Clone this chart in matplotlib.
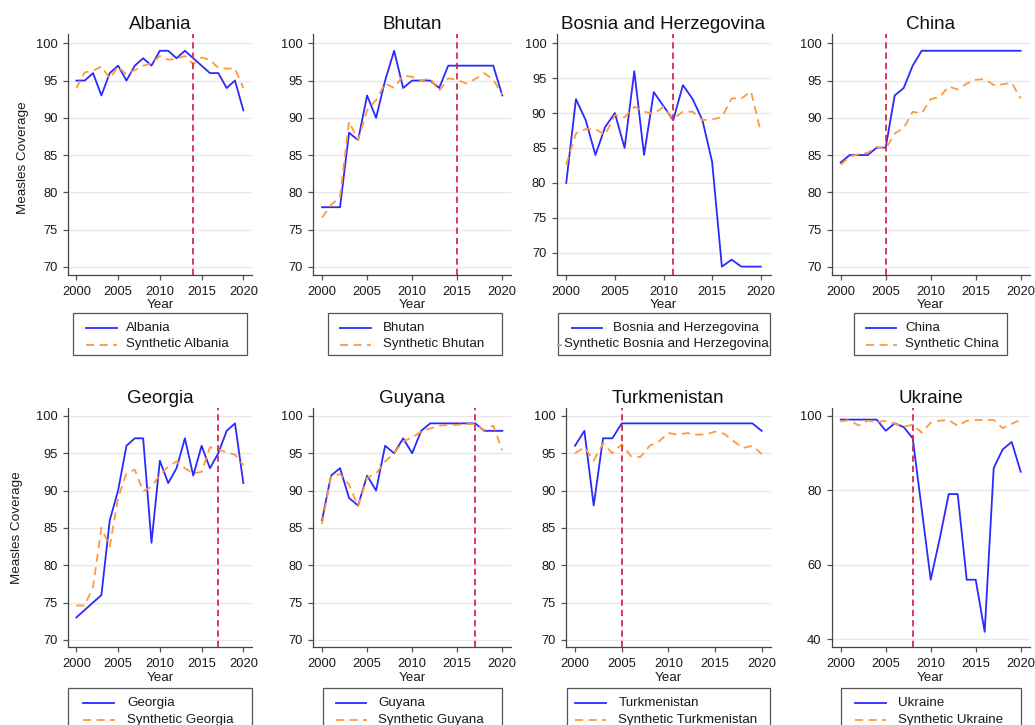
import matplotlib
matplotlib.use('Agg')
import matplotlib.pyplot as plt
from matplotlib.lines import Line2D
from matplotlib.patches import Rectangle

plt.rcParams['font.family'] = ['Liberation Sans', 'DejaVu Sans']

years = list(range(2000, 2021))

albania = [95, 95, 96, 93, 96, 97, 95, 97, 98, 97, 99, 99, 98, 99, 98, 97, 96, 96, 94, 95, 91]
albania_synth = [94.0, 96.1, 96.3, 96.9, 95.3, 96.9, 95.8, 96.4, 97.0, 97.3, 98.3, 97.8, 97.9, 98.3,
                 97.2, 98.1, 97.8, 96.7, 96.6, 96.6, 94.0]

bhutan = [78, 78, 78, 88, 87, 93, 90, 95, 99, 94, 95, 95, 95, 94, 97, 97, 97, 97, 97, 97, 93]
bhutan_synth = [76.6, 78.3, 79.4, 89.5, 87.0, 91.0, 92.4, 94.6, 94.0, 95.7, 95.5, 95.0, 95.3, 93.6,
                95.3, 95.1, 94.6, 95.2, 96.0, 95.1, 93.1]

bosnia = [80, 92, 89, 84, 88, 90, 85, 96, 84, 93, 91, 89, 94, 92, 89, 83, 68, 69, 68, 68, 68]
bosnia_synth = [82.6, 87.1, 87.7, 87.7, 86.9, 89.7, 89.4, 90.9, 90.2, 89.9, 90.9, 89.2, 90.2, 90.2,
                89.0, 89.1, 89.4, 92.1, 92.1, 93.1, 87.3]

china = [84, 85, 85, 85, 86, 86, 93, 94, 97, 99, 99, 99, 99, 99, 99, 99, 99, 99, 99, 99, 99]
china_synth = [83.7, 84.8, 85.1, 85.3, 86.1, 85.8, 87.9, 88.6, 90.8, 90.6, 92.5, 92.8, 94.2, 93.8,
               94.6, 95.1, 95.2, 94.4, 94.5, 94.7, 92.6]

georgia = [73, 74, 75, 76, 86, 90, 96, 97, 97, 83, 94, 91, 93, 97, 92, 96, 93, 95, 98, 99, 91]
georgia_synth = [74.6, 74.6, 77.1, 85.0, 82.5, 89.0, 92.3, 92.8, 89.9, 90.5, 92.1, 93.2, 93.9, 93.0,
                 92.3, 92.5, 95.8, 95.5, 95.1, 94.8, 93.4]

guyana = [86, 92, 93, 89, 88, 92, 90, 96, 95, 97, 95, 98, 99, 99, 99, 99, 99, 99, 98, 98, 98]
guyana_synth = [85.5, 91.9, 92.2, 90.8, 87.9, 91.7, 92.3, 93.9, 95.0, 96.6, 97.1, 97.9, 98.3, 98.7,
                98.8, 98.8, 98.9, 98.9, 98.1, 98.7, 95.4]

turkmenistan = [96, 98, 88, 97, 97, 99, 99, 99, 99, 99, 99, 99, 99, 99, 99, 99, 99, 99, 99, 99, 98]
turkmenistan_synth = [95.0, 95.8, 94.0, 96.3, 95.0, 96.2, 94.6, 94.5, 96.0, 96.6, 97.7, 97.5, 97.7,
                      97.5, 97.5, 97.9, 97.6, 96.6, 95.7, 96.0, 94.9]

ukraine = [99, 99, 99, 99, 99, 96, 98, 97, 94, 75, 56, 67, 79, 79, 56, 56, 42, 86, 91, 93, 85]
ukraine_synth = [98.5, 98.9, 97.4, 98.7, 98.3, 98.7, 97.9, 97.1, 97.6, 95.5, 98.2, 98.7, 98.9, 97.3,
                 98.7, 98.9, 98.9, 98.9, 96.7, 97.9, 98.9]

countries = ['Albania', 'Bhutan', 'Bosnia and Herzegovina', 'China',
             'Georgia', 'Guyana', 'Turkmenistan', 'Ukraine']
actual_series = [albania, bhutan, bosnia, china, georgia, guyana, turkmenistan, ukraine]
synth_series = [albania_synth, bhutan_synth, bosnia_synth, china_synth,
                georgia_synth, guyana_synth, turkmenistan_synth, ukraine_synth]
treatment_years = [2014, 2015, 2011, 2005, 2017, 2017, 2005, 2008]

xticks = [2000, 2005, 2010, 2015, 2020]
yticks_std = [70, 75, 80, 85, 90, 95, 100]
yticks_ukr = [40, 60, 80, 100]

W, H = 1035, 725

# layout (pixels): left, right, top, bottom, ylim
layout = [
    (68, 251.7, 34, 275, (68.9, 101.25)),
    (313, 511.3, 34, 275, (68.9, 101.25)),
    (556.5, 770.5, 34, 275, (66.8, 101.33)),
    (831.7, 1029.7, 34, 275, (68.9, 101.25)),
    (68, 251.7, 407.7, 647.3, (69.0, 101.1)),
    (313, 511.3, 407.7, 647.3, (69.0, 101.1)),
    (565.7, 771, 407.7, 647.3, (69.0, 101.1)),
    (831.7, 1029.7, 407.7, 647.3, (37.85, 102.2)),
]
# legend layout (pixels): box left, box right, box top,
# row1 handle start, row1 text x, row2 handle start, row2 handle end, row2 text x
leg_layout = [
    (72.7, 246.7, 313, 86, 126, 86, 116.7, 126),
    (327.7, 501.7, 313, 340, 383.3, 340, 370.5, 383.3),
    (557.7, 770, 313, 571.7, 612.7, 556.5, 561.5, 563.5),
    (854, 1007, 313, 865.7, 905, 865.7, 896.5, 905),
    (68.3, 252, 688, 83.3, 127.3, 83.3, 114.5, 127.3),
    (323, 502, 688, 335.7, 378.3, 335.7, 366.5, 378.3),
    (566.7, 770, 688, 575, 618.3, 575, 605.5, 618.3),
    (840.7, 1020.7, 688, 855, 897.7, 855, 886, 897.7),
]

BLUE = '#2a2aff'
ORANGE = '#ff9a3c'
RED = '#d42a4c'

fig = plt.figure(figsize=(W / 100, H / 100), dpi=100)
fig.patch.set_facecolor('white')


def fxy(x, y):
    return x / W, 1 - y / H


for i, name in enumerate(countries):
    l, r, t, b, ylim = layout[i]
    ax = fig.add_axes([l / W, 1 - b / H, (r - l) / W, (b - t) / H])
    ax.plot(years, actual_series[i], color=BLUE, lw=1.3, zorder=3)
    ax.plot(years, synth_series[i], color=ORANGE, lw=1.3, dashes=(4.5, 3), zorder=3)
    ax.axvline(treatment_years[i], color=RED, lw=1.3, dashes=(3.5, 2.2), zorder=4)
    ax.set_xlim(1999, 2021)
    ax.set_ylim(*ylim)
    ax.set_xticks(xticks)
    ax.set_yticks(yticks_ukr if name == 'Ukraine' else yticks_std)
    ax.yaxis.grid(True, color='#e8e8e8', lw=1.0)
    ax.set_axisbelow(True)
    for s in ['top', 'right']:
        ax.spines[s].set_visible(False)
    for s in ['left', 'bottom']:
        ax.spines[s].set_color('#444444')
        ax.spines[s].set_linewidth(0.9)
    ax.tick_params(axis='both', labelsize=9.3, length=3.8, width=0.9, color='#555555',
                   pad=3.5, labelcolor='#1a1a1a')
    ax.tick_params(axis='x', pad=4.0)
    ax.set_title(name, fontsize=13.5, pad=3.5, color='#111111')
    ax.set_xlabel('Year', fontsize=9.6, labelpad=1.2, color='#1a1a1a')

    # legend drawn by hand (Stata-style box)
    bl, br, bt, h1, t1, h2a, h2b, t2 = leg_layout[i]
    bb = bt + 42
    x0, y0 = fxy(bl, bb)
    x1, y1 = fxy(br, bt)
    fig.add_artist(Rectangle((x0, y0), x1 - x0, y1 - y0, transform=fig.transFigure,
                             fill=True, facecolor='white', edgecolor='#555555', lw=0.9,
                             zorder=5))
    ry1 = bt + 15
    ry2 = bt + 31.5
    fig.add_artist(Line2D([h1 / W, (h1 + 30.6) / W], [1 - ry1 / H, 1 - ry1 / H],
                          transform=fig.transFigure, color=BLUE, lw=1.3, zorder=6))
    fig.add_artist(Line2D([h2a / W, h2b / W], [1 - ry2 / H, 1 - ry2 / H],
                          transform=fig.transFigure, color=ORANGE, lw=1.3,
                          dashes=(4.5, 3), zorder=6))
    fig.text(t1 / W, 1 - ry1 / H, name, ha='left', va='center', fontsize=9.6,
             color='#1a1a1a', zorder=7)
    fig.text(t2 / W, 1 - ry2 / H, 'Synthetic ' + name, ha='left', va='center',
             fontsize=9.6, color='#1a1a1a', zorder=7)

fig.text(22.7 / W, 1 - 157.5 / H, 'Measles Coverage', rotation=90, ha='center',
         va='center', fontsize=9.7, color='#1a1a1a')
fig.text(17.3 / W, 1 - 528 / H, 'Measles Coverage', rotation=90, ha='center',
         va='center', fontsize=9.7, color='#1a1a1a')

fig.savefig('out.png', dpi=100, facecolor='white')
